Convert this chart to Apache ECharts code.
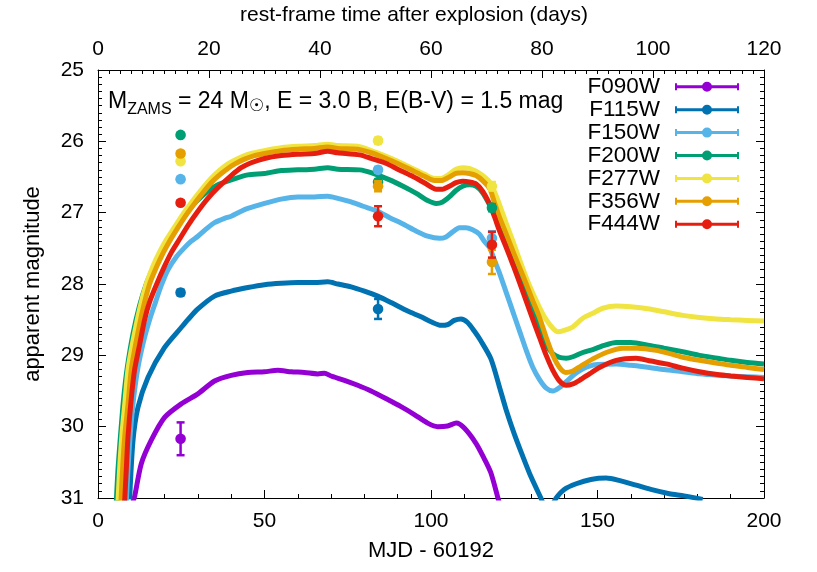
<!DOCTYPE html>
<html><head><meta charset="utf-8">
<script src="https://cdn.jsdelivr.net/npm/echarts@6/dist/echarts.min.js"></script>
<style>html,body{margin:0;padding:0;background:#fff}#c{width:817px;height:572px}</style>
</head><body><div id="c"></div>
<script>
// ---- data ----
const filterNames = ['F090W','F115W','F150W','F200W','F277W','F356W','F444W'];
const filterColors = ['#9400D3','#0072B2','#56B4E9','#009E73','#F0E442','#E69F00','#E51E10'];
const xTicksMJD = [0, 50, 100, 150, 200];
const xTicksDays = [0, 20, 40, 60, 80, 100, 120];
const yTicksMag = [25, 26, 27, 28, 29, 30, 31];

const modelF090W = [[10.5,31.05],[11,30.98],[13,30.52],[16,30.19],[20,29.87],[25,29.68],[30,29.54],[35,29.36],[40,29.28],[45,29.24],[50,29.23],[54,29.21],[58,29.23],[62,29.24],[66,29.26],[68,29.25],[70,29.29],[74,29.35],[78,29.42],[82,29.5],[87,29.62],[91,29.72],[95,29.83],[99,29.95],[102,30.0],[105,29.99],[107.6,29.95],[110,30.02],[113.6,30.24],[116,30.45],[118,30.65],[120.1,31.0],[121,31.15]];
const modelF115W = [[9.5,31.02],[10.5,30.2],[12,29.73],[15,29.31],[20,28.89],[25,28.61],[27,28.5],[30,28.35],[35,28.17],[40,28.1],[45,28.05],[50,28.01],[55,27.99],[60,27.98],[65,27.98],[69,27.97],[72,28.0],[76,28.04],[80,28.1],[84,28.17],[88,28.26],[93,28.38],[97,28.46],[100,28.53],[103,28.58],[105,28.57],[107,28.51],[109,28.49],[111,28.54],[113,28.66],[115,28.8],[118,29.05],[120.6,29.45],[122.6,29.77],[125,30.1],[127.6,30.42],[130,30.7],[133,31.0],[135,31.2],[137.6,31.0],[140,30.88],[143.6,30.8],[148,30.74],[152.6,30.72],[157,30.76],[161.6,30.82],[166,30.88],[171.6,30.94],[176,30.97],[181.6,31.02]];
const modelF150W = [[8.5,31.05],[9.0,30.6],[9.7,30.1],[10.7,29.6],[12,29.17],[13.7,28.8],[15.5,28.5],[17.3,28.25],[19,28.02],[21,27.8],[23.5,27.62],[26,27.49],[28,27.4],[30,27.33],[33,27.21],[35,27.14],[38,27.08],[40,27.05],[43,26.98],[45,26.94],[50,26.87],[55,26.81],[60,26.78],[65,26.78],[69,26.77],[72,26.8],[76,26.85],[79.6,26.91],[84,26.98],[87.6,27.07],[91.6,27.16],[95.6,27.26],[99,27.33],[102.6,27.36],[104.5,27.34],[106.5,27.27],[108.5,27.21],[110.5,27.21],[112.5,27.24],[114.5,27.3],[116,27.4],[117.6,27.49],[119,27.66],[120.6,27.85],[122.6,28.12],[124.6,28.39],[126.6,28.66],[128.6,28.93],[130.6,29.17],[132.6,29.34],[134.6,29.46],[136.6,29.5],[138.6,29.45],[140.6,29.37],[143,29.27],[145.6,29.19],[147.6,29.15],[150,29.13],[155.6,29.12],[160,29.14],[165.6,29.17],[170,29.2],[175.6,29.23],[180.6,29.26],[186,29.28],[190,29.29],[195,29.3],[200,29.31]];
const modelF200W = [[5.5,31.05],[6.0,30.6],[6.8,30.1],[7.7,29.6],[8.8,29.17],[10.5,28.7],[12.5,28.3],[14.5,28.0],[16.5,27.78],[18.5,27.58],[20.5,27.42],[23,27.24],[25.5,27.07],[28,26.92],[30,26.82],[33,26.7],[36,26.61],[40,26.54],[45,26.47],[50,26.45],[55,26.41],[60,26.4],[65,26.39],[69,26.37],[72,26.39],[78.6,26.4],[82,26.44],[87.6,26.54],[91.6,26.63],[95.6,26.73],[99,26.83],[101.6,26.87],[103.5,26.85],[105.5,26.78],[107.5,26.69],[109.5,26.63],[111.5,26.61],[113.6,26.63],[115.5,26.72],[117.5,26.88],[119,27.02],[120.6,27.2],[122.6,27.43],[124.6,27.66],[126.6,27.9],[128.6,28.14],[130.6,28.38],[132.6,28.62],[134.6,28.85],[136.6,28.98],[138.6,29.03],[140.6,29.04],[142.6,29.02],[145.6,28.96],[148.6,28.92],[152,28.86],[155.6,28.82],[160,28.82],[165.6,28.86],[170,28.9],[175.6,28.95],[180.6,29.0],[186,29.04],[190,29.07],[195,29.1],[200,29.12]];
const modelF277W = [[6.0,31.05],[6.6,30.5],[7.2,30.1],[8.0,29.7],[9.0,29.2],[10.5,28.8],[12.5,28.35],[14.5,28.0],[16.5,27.75],[18.5,27.55],[20.5,27.38],[23,27.2],[25.5,27.02],[28,26.86],[30,26.74],[33,26.57],[35,26.47],[38,26.35],[40,26.29],[43,26.22],[46,26.17],[50,26.13],[55,26.09],[60,26.07],[65,26.06],[69,26.04],[72,26.06],[78,26.07],[82,26.13],[86,26.2],[90,26.28],[94,26.37],[98,26.46],[101,26.52],[103,26.52],[105.5,26.46],[107.5,26.39],[109.5,26.37],[111.5,26.38],[113.5,26.42],[115.5,26.48],[117.6,26.57],[119,26.7],[120.6,26.89],[122.6,27.15],[124.6,27.4],[126.6,27.66],[128.6,27.91],[130.6,28.13],[132.6,28.33],[134.6,28.5],[136.6,28.62],[138.1,28.67],[140,28.65],[142.6,28.6],[145.6,28.48],[148.6,28.41],[151.6,28.34],[155.6,28.31],[160,28.32],[165.6,28.35],[170,28.39],[175.6,28.44],[180.6,28.47],[185.6,28.49],[190,28.5],[195,28.51],[200,28.52]];
const modelF356W = [[6.9,31.05],[7.5,30.5],[8.1,30.1],[9.0,29.7],[10.0,29.2],[11.5,28.8],[13.5,28.35],[15.5,28.0],[17.5,27.77],[19.5,27.57],[21.5,27.4],[24,27.21],[26.5,27.03],[29,26.87],[31,26.75],[34,26.58],[36,26.49],[39,26.38],[41,26.32],[44,26.25],[47,26.2],[50,26.17],[55,26.13],[60,26.11],[65,26.1],[69,26.08],[72,26.1],[78,26.11],[82,26.16],[86,26.23],[90,26.31],[94,26.4],[98,26.49],[101,26.55],[103,26.55],[105.5,26.5],[107.5,26.45],[109.5,26.44],[111.5,26.45],[113.5,26.48],[115.5,26.55],[117.6,26.66],[119,26.85],[120.6,27.07],[122.6,27.3],[124.6,27.54],[126.6,27.77],[128.6,28.0],[130.6,28.24],[132.6,28.47],[134.6,28.75],[136.6,29.0],[138.6,29.17],[140.5,29.24],[142.6,29.22],[145,29.15],[148.6,29.05],[152.6,28.96],[157.6,28.9],[162,28.9],[167.6,28.93],[172,28.98],[176,29.03],[180.6,29.07],[186,29.11],[190,29.14],[195,29.17],[200,29.2]];
const modelF444W = [[8.0,31.05],[8.5,30.6],[9.0,30.15],[10,29.6],[11,29.2],[12.5,28.85],[14,28.5],[15.5,28.25],[18,27.96],[20,27.75],[22,27.56],[24.5,27.37],[27,27.18],[30,26.98],[33,26.8],[36,26.65],[40,26.48],[43,26.37],[46,26.3],[50,26.24],[55,26.2],[60,26.18],[65,26.17],[69,26.14],[72,26.16],[78.6,26.19],[82,26.24],[86.6,26.31],[90,26.39],[94,26.48],[98,26.58],[101.6,26.67],[103.5,26.67],[105.5,26.63],[107.5,26.58],[109.5,26.56],[111.5,26.57],[113.6,26.6],[115.5,26.7],[117.5,26.87],[119,27.05],[120.6,27.26],[122.6,27.49],[124.6,27.73],[126.6,27.98],[128.6,28.24],[130.6,28.5],[132.6,28.75],[134.6,29.0],[136.6,29.21],[138.6,29.36],[140.6,29.42],[142.6,29.4],[144.6,29.35],[147.6,29.26],[150.6,29.17],[155.6,29.07],[161.6,29.04],[166,29.08],[170.6,29.12],[175.6,29.18],[180.6,29.23],[186,29.27],[190,29.29],[195,29.31],[200,29.33]];

// observations: [MJD, mag, error]
const obsF090W = [[24.8,30.17,0.23]];
const obsF115W = [[24.8,28.12,0.04],[84.1,28.35,0.14]];
const obsF150W = [[24.8,26.53,0.03],[84.1,26.40,0.04],[118.3,27.36,0.10]];
const obsF200W = [[24.8,25.91,0.02],[84.1,26.57,0.04],[118.3,26.93,0.05]];
const obsF277W = [[24.8,26.28,0.02],[84.1,25.99,0.04],[118.3,26.63,0.06]];
const obsF356W = [[24.8,26.17,0.03],[84.1,26.63,0.07],[118.3,27.69,0.17]];
const obsF444W = [[24.8,26.86,0.03],[84.1,27.05,0.14],[118.3,27.45,0.18]];

const models = [modelF090W, modelF115W, modelF150W, modelF200W, modelF277W, modelF356W, modelF444W];
const observations = [obsF090W, obsF115W, obsF150W, obsF200W, obsF277W, obsF356W, obsF444W];

// annotation pieces: [text, role]
const annotationPieces = [['M','main'],['ZAMS','sub'],[' = 24 M','main'],['\u2609','sun'],[', E = 3.0 B, E(B-V) = 1.5 mag','main']];

// ---- chart ----
const FONT = 'Liberation Sans, Arial, sans-serif';
const FS = 21;
const chart = echarts.init(document.getElementById('c'), null, {renderer: 'canvas'});

const legendIcon = 'path://M0,3.5 L64,3.5 L64,6.5 L0,6.5 Z M0,1.5 L2,1.5 L2,8.5 L0,8.5 Z M62,1.5 L64,1.5 L64,8.5 L62,8.5 Z M27,5 A5,5 0 1,1 37,5 A5,5 0 1,1 27,5 Z';

const series = [];
filterNames.forEach((n, i) => {
  series.push({
    name: n, type: 'line', xAxisIndex: 0, yAxisIndex: 0,
    data: models[i], showSymbol: false, symbol: 'none',
    smooth: 0.25, clip: true,
    lineStyle: {color: filterColors[i], width: 5},
    itemStyle: {color: filterColors[i]},
    z: 2 + i, silent: true, animation: false
  });
});
filterNames.forEach((n, i) => {
  series.push({
    name: n, type: 'custom', xAxisIndex: 0, yAxisIndex: 0,
    data: observations[i], z: 20 + i, animation: false, silent: true,
    itemStyle: {color: filterColors[i]},
    renderItem: function (params, api) {
      const x = api.value(0), y = api.value(1), e = api.value(2);
      const c = api.coord([x, y]);
      const t = api.coord([x, y - e]);
      const b = api.coord([x, y + e]);
      const col = filterColors[i];
      const ls = {stroke: col, lineWidth: 2.5};
      return {type: 'group', children: [
        {type: 'line', shape: {x1: c[0], y1: t[1], x2: c[0], y2: b[1]}, style: ls},
        {type: 'line', shape: {x1: c[0] - 4, y1: t[1], x2: c[0] + 4, y2: t[1]}, style: ls},
        {type: 'line', shape: {x1: c[0] - 4, y1: b[1], x2: c[0] + 4, y2: b[1]}, style: ls},
        {type: 'circle', shape: {cx: c[0], cy: c[1], r: 5.3}, style: {fill: col}}
      ]};
    }
  });
});

const axisCommon = {
  axisLine: {show: true, onZero: false, lineStyle: {color: '#000', width: 1}},
  axisTick: {show: true, inside: true, length: 8, lineStyle: {color: '#000', width: 1}},
  minorTick: {show: true, length: 4, lineStyle: {color: '#000', width: 1}},
  splitLine: {show: false},
  axisLabel: {color: '#000', fontFamily: FONT, fontSize: FS}
};

// annotation layout (measure text widths)
const roleStyle = {
  main: {font: '23px Liberation Sans', size: 23, family: FONT, cy: 101.2},
  sub: {font: '16px Liberation Sans', size: 16, family: FONT, cy: 110.0},
  sun: {font: '17px DejaVu Sans', size: 17, family: 'DejaVu Sans', cy: 106.5}
};
const mctx = document.createElement('canvas').getContext('2d');
let ax = 108;
const annGraphics = annotationPieces.map(p => {
  const st = roleStyle[p[1]];
  mctx.font = st.font;
  const w = mctx.measureText(p[0]).width;
  const g = {type: 'text', x: ax, y: st.cy, silent: true,
    style: {text: p[0], fill: '#000', fontFamily: st.family, fontSize: st.size, align: 'left', verticalAlign: 'middle'}};
  ax += w;
  return g;
});

chart.setOption({
  animation: false,
  backgroundColor: '#fff',
  grid: {left: 98, right: 53, top: 68, bottom: 74, containLabel: false},
  xAxis: [
    Object.assign({}, axisCommon, {
      type: 'value', position: 'bottom', min: xTicksMJD[0], max: xTicksMJD[xTicksMJD.length - 1], interval: 50,
      minorTick: Object.assign({}, axisCommon.minorTick, {splitNumber: 5}),
      axisLabel: Object.assign({}, axisCommon.axisLabel, {margin: 13}),
      name: 'MJD - 60192', nameLocation: 'middle', nameGap: 42,
      nameTextStyle: {color: '#000', fontFamily: FONT, fontSize: 22}
    }),
    Object.assign({}, axisCommon, {
      type: 'value', position: 'top', min: xTicksDays[0], max: xTicksDays[xTicksDays.length - 1], interval: 20,
      minorTick: Object.assign({}, axisCommon.minorTick, {splitNumber: 10}),
      axisLabel: Object.assign({}, axisCommon.axisLabel, {margin: 10}),
      name: 'rest-frame time after explosion (days)', nameLocation: 'middle', nameGap: 44,
      nameTextStyle: {color: '#000', fontFamily: FONT, fontSize: FS, padding: [0, 34, 0, 0]}
    })
  ],
  yAxis: [
    Object.assign({}, axisCommon, {
      type: 'value', position: 'left', inverse: true, min: yTicksMag[0], max: yTicksMag[yTicksMag.length - 1], interval: 1,
      minorTick: Object.assign({}, axisCommon.minorTick, {splitNumber: 10}),
      axisLabel: Object.assign({}, axisCommon.axisLabel, {margin: 14}),
      name: 'apparent magnitude', nameLocation: 'middle', nameGap: 54, nameRotate: 90,
      nameTextStyle: {color: '#000', fontFamily: FONT, fontSize: 22}
    }),
    Object.assign({}, axisCommon, {
      type: 'value', position: 'right', inverse: true, min: yTicksMag[0], max: yTicksMag[yTicksMag.length - 1], interval: 1,
      minorTick: Object.assign({}, axisCommon.minorTick, {splitNumber: 10}),
      axisLabel: {show: false}
    })
  ],
  legend: {
    orient: 'vertical', right: 78, top: 75.3, align: 'right', padding: 0,
    itemWidth: 64, itemHeight: 10, itemGap: -0.1,
    data: filterNames.map(n => ({name: n, icon: legendIcon})),
    textStyle: {color: '#000', fontFamily: FONT, fontSize: 22.5, lineHeight: 20, padding: [0, 10, 0, 0]},
    itemStyle: {borderWidth: 0},
    selectedMode: false
  },
  graphic: annGraphics,
  series: series
});
</script>
</body></html>
